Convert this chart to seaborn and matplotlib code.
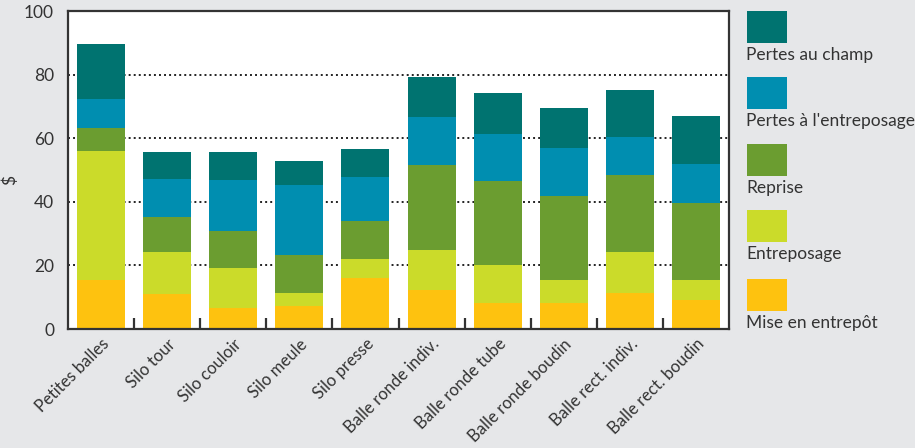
import matplotlib
matplotlib.use("Agg")
import matplotlib.pyplot as plt
from matplotlib.patches import Rectangle
from matplotlib.ticker import FixedLocator
import seaborn as sns
import pandas as pd
import numpy as np

categories = ["Petites balles", "Silo tour", "Silo couloir", "Silo meule", "Silo presse",
              "Balle ronde indiv.", "Balle ronde tube", "Balle ronde boudin",
              "Balle rect. indiv.", "Balle rect. boudin"]

# cost components ($), bottom to top of each stack
mise_en_entrepot = [15.3, 10.9, 6.6, 7.2, 15.9, 12.2, 8.1, 8.1, 11.3, 9.1]
entreposage = [40.6, 13.2, 12.5, 4.1, 6.0, 12.8, 11.9, 7.2, 12.8, 6.2]
reprise = [7.2, 11.2, 11.8, 12.1, 12.2, 26.6, 26.6, 26.6, 24.3, 24.4]
pertes_entreposage = [9.1, 11.9, 16.0, 21.9, 13.7, 15.0, 14.7, 15.0, 11.9, 12.2]
pertes_champ = [17.4, 8.4, 8.7, 7.5, 8.8, 12.5, 12.8, 12.5, 15.0, 15.0]

series_names = ["Mise en entrepôt", "Entreposage", "Reprise",
                "Pertes à l'entreposage", "Pertes au champ"]
series_values = [mise_en_entrepot, entreposage, reprise, pertes_entreposage, pertes_champ]
series_colors = ["#fec20f", "#cbdb2a", "#6b9d30", "#008eb0", "#007370"]

y_ticks = [0, 20, 40, 60, 80, 100]

sns.set_theme(style="white")
plt.rcParams["font.family"] = ["Lato", "DejaVu Sans"]

bg = "#e6e7e9"
fig = plt.figure(figsize=(9.15, 4.48), dpi=100, facecolor=bg)
ax = fig.add_axes([68 / 915, 1 - 329 / 448, 661 / 915, 318 / 448])
ax.set_facecolor("white")
ax.set_axisbelow(False)

# cumulative tops; drawn from the tallest down so each layer covers the one above it
df = pd.DataFrame({"cat": categories})
cum = np.cumsum(np.array(series_values), axis=0)
for i in range(len(series_names) - 1, -1, -1):
    df["top"] = cum[i]
    sns.barplot(data=df, x="cat", y="top", color=series_colors[i], saturation=1,
                width=0.727, ax=ax, zorder=2, linewidth=0)

for yv in y_ticks[1:-1]:
    ax.axhline(yv, color="#222222", linestyle=(0, (1, 1.6)), linewidth=1.4, zorder=1)

ax.set_xlim(-0.5, len(categories) - 0.5)
ax.set_ylim(0, 100)
ax.set_yticks(y_ticks)
ax.set_xlabel("")
ax.set_ylabel("$", fontsize=12.5, color="#333333")
ax.yaxis.set_label_coords(-0.076, 0.47)

ax.tick_params(axis="y", left=False, length=0, pad=10, labelsize=12.5, labelcolor="#333333")
ax.tick_params(axis="x", which="major", bottom=True, length=0, pad=5, labelsize=12,
               labelcolor="#333333")
# short inward ticks on the boundaries between categories
ax.xaxis.set_minor_locator(FixedLocator(list(np.arange(len(categories) - 1) + 0.5)))
ax.tick_params(axis="x", which="minor", bottom=True, direction="in", length=8, width=1.6,
               color="#333333")
plt.setp(ax.get_xticklabels(), rotation=45, ha="right", rotation_mode="anchor")

for s in ax.spines.values():
    s.set_color("#333333")
    s.set_linewidth(1.6)
    s.set_visible(True)
    s.set_zorder(4)

# legend: colour square with its label underneath
leg_tops = [11, 77, 144, 210, 279]
for name, col, top in zip(series_names[::-1], series_colors[::-1], leg_tops):
    fig.add_artist(Rectangle((747 / 915, 1 - (top + 32) / 448), 40 / 915, 32 / 448,
                             transform=fig.transFigure, facecolor=col, edgecolor="none"))
    fig.text(746 / 915, 1 - (top + 44) / 448, name, fontsize=12.5, color="#333333",
             ha="left", va="center")

fig.savefig("out.png", dpi=100, facecolor=bg)
